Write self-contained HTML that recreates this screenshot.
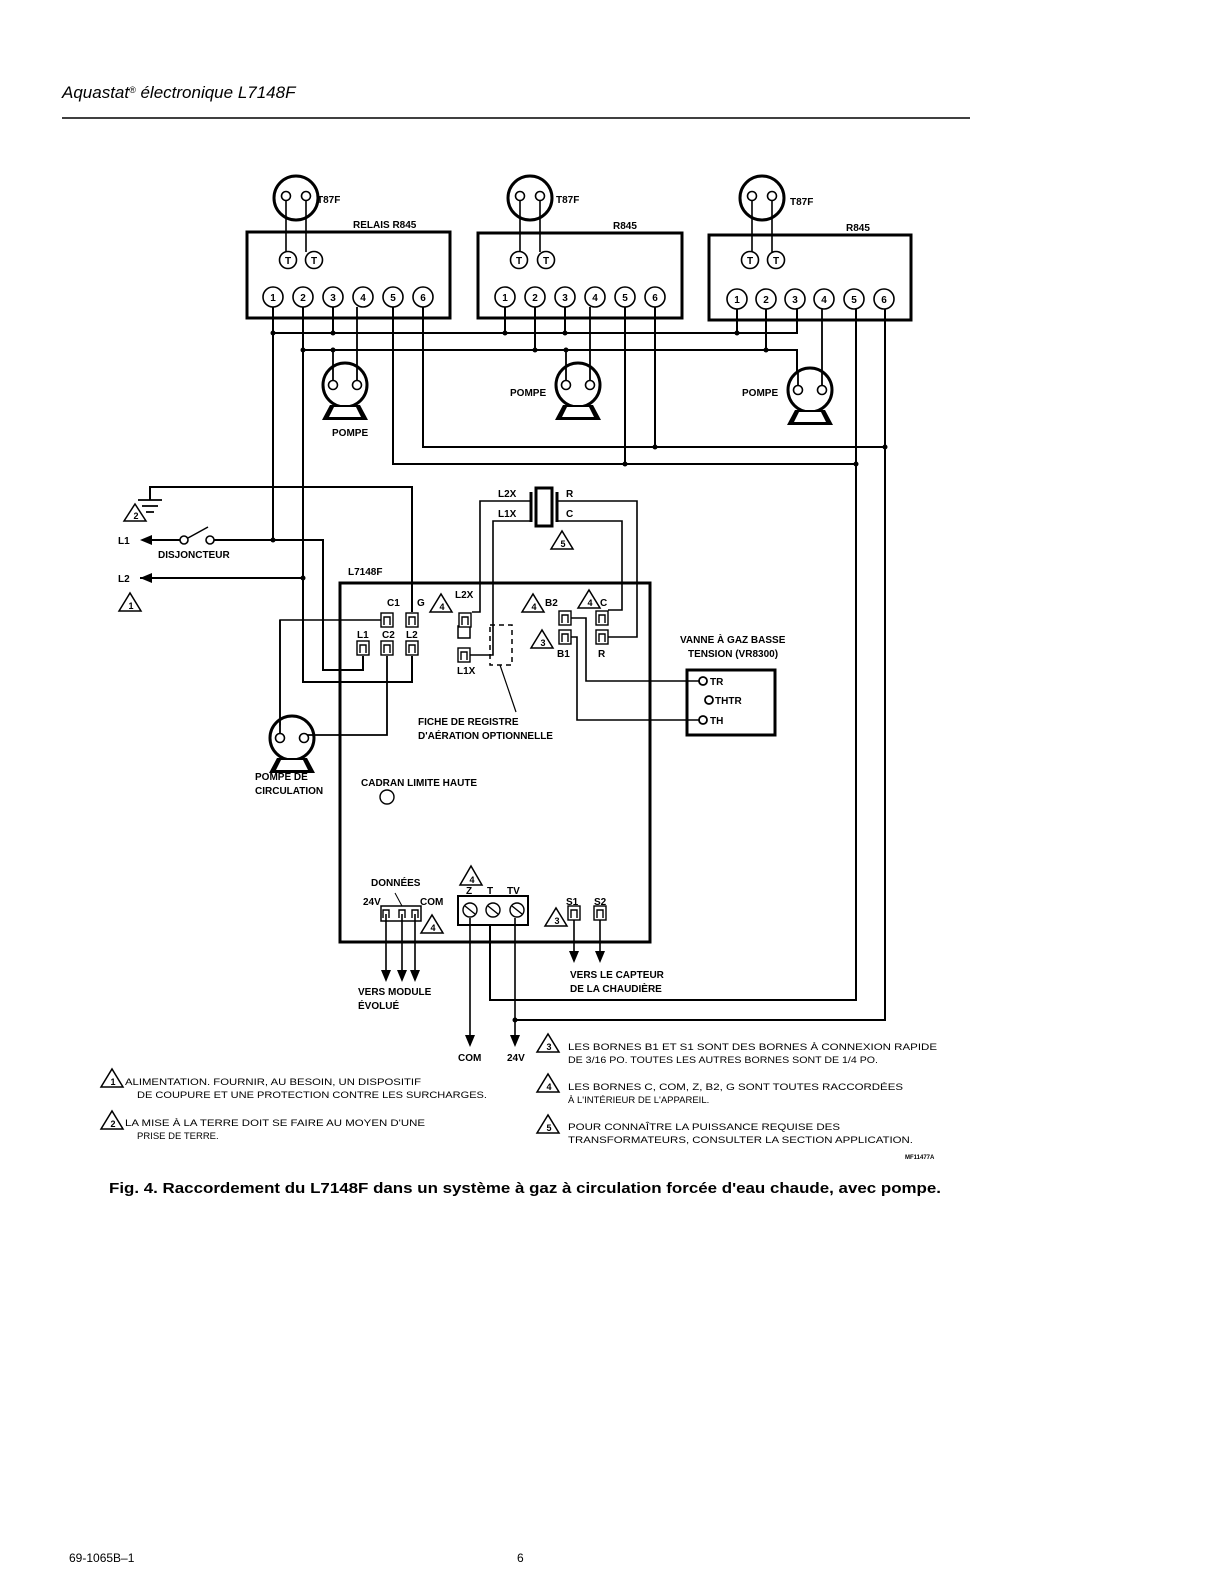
<!DOCTYPE html>
<html><head><meta charset="utf-8"><style>
html,body{margin:0;padding:0;background:#fff;}
svg{display:block;}
text{font-family:"Liberation Sans",Arial,sans-serif;fill:#000;}
.s{font-size:10px;}
.b{font-weight:bold;}
</style></head><body>
<svg width="1232" height="1590" viewBox="0 0 1232 1590" xmlns="http://www.w3.org/2000/svg">
<g fill="none" stroke="#000" stroke-width="1.6">
<line x1="62" y1="118" x2="970" y2="118" stroke-width="1.5"/>
<circle cx="296" cy="198" r="22" stroke-width="3"/>
<circle cx="530" cy="198" r="22" stroke-width="3"/>
<circle cx="762" cy="198" r="22" stroke-width="3"/>
<rect x="247" y="232" width="203" height="86" stroke-width="3"/>
<rect x="478" y="233" width="204" height="85" stroke-width="3"/>
<rect x="709" y="235" width="202" height="85" stroke-width="3"/>
<path d="M286 198V252M306 198V252M520 198V252M540 198V252M752 198V252M772 198V252"/>
<path d="M273 307V333H797V307M333 307V333M505 307V333M565 307V333M737 307V333" stroke-width="2"/>
<path d="M303 307V350H797V372M535 307V350M766 307V350" stroke-width="2"/>
<path d="M423 307V447H885M655 307V447M885 307V1020H515" stroke-width="2"/>
<path d="M393 307V464H856M625 307V464M856 307V1000H490V925" stroke-width="2"/>
<path d="M273 333V540M303 350V682H412V656" stroke-width="2"/>
<path d="M150 500V487H412V612" stroke-width="2"/>
<path d="M140 578H303" stroke-width="2"/>
<path d="M150 540H180M210 540H323V670H363V656" stroke-width="2"/>
<path d="M188 538L208 527" stroke-width="1.5"/>
<path d="M381 620H280V735" stroke-width="1.5"/>
<path d="M138 500H162M142 506H158M146 512H154" stroke-width="1.8"/>
<rect x="340" y="583" width="310" height="359" stroke-width="3"/>
<rect x="536" y="488" width="16" height="38" stroke-width="3"/>
<path d="M531 492V522M557 492V522" stroke-width="3"/>
<path d="M531 501H480V612H472M531 521H493V655H470M557 501H637V637H608M557 521H622V610H608" stroke-width="1.6"/>
<rect x="490" y="625" width="22" height="40" stroke-dasharray="5,4" stroke-width="1.5"/>
<path d="M500 665L516 712" stroke-width="1.2"/>
<rect x="458" y="626" width="12" height="12" stroke-width="1.5"/>
<path d="M571 618H586V681H700M571 637H577V720H700" stroke-width="1.6"/>
<rect x="687" y="670" width="88" height="65" stroke-width="3"/>
<circle cx="703" cy="681" r="4" stroke-width="1.8"/>
<circle cx="709" cy="700" r="4" stroke-width="1.8"/>
<circle cx="703" cy="720" r="4" stroke-width="1.8"/>
<circle cx="387" cy="797" r="7" stroke-width="1.4"/>
<rect x="458" y="896" width="70" height="29" stroke-width="2"/>
<rect x="381" y="906" width="40" height="15" stroke-width="1.5"/>
<path d="M386 914V972M402 914V972M415 914V972M574 918V953M600 918V953M470 918V1037M515 918V1037" stroke-width="1.6"/>
<path d="M395 893L402 906" stroke-width="1"/>
<circle cx="345" cy="385" r="22" stroke-width="3"/>
<circle cx="578" cy="385" r="22" stroke-width="3"/>
<circle cx="810" cy="390" r="22" stroke-width="3"/>
<circle cx="292" cy="738" r="22" stroke-width="3"/>
</g>
<g fill="#000">
<path d="M330 405L322 420H368L360 405Z"/><path d="M563 405L555 420H601L593 405Z"/><path d="M795 410L787 425H833L825 410Z"/><path d="M277 758L269 773H315L307 758Z"/>
</g>
<g fill="#fff"><path d="M334 407L329 417H361L356 407Z"/><path d="M567 407L562 417H594L589 407Z"/><path d="M799 412L794 422H826L821 412Z"/><path d="M281 760L276 770H308L303 760Z"/></g>
<g fill="#fff">
<circle cx="345" cy="385" r="17"/>
<circle cx="578" cy="385" r="17"/>
<circle cx="810" cy="390" r="17"/>
<circle cx="292" cy="738" r="17"/>
</g>
<g fill="none" stroke="#000" stroke-width="1.8">
<path d="M333 350V380M357 386V307M566 350V380M590 380V307M798 372V385M822 385V307M280 620V733M387 656V735H306"/>
</g>
<g fill="#fff" stroke="#000" stroke-width="1.6">
<circle cx="333" cy="385" r="4.5"/><circle cx="357" cy="385" r="4.5"/>
<circle cx="566" cy="385" r="4.5"/><circle cx="590" cy="385" r="4.5"/>
<circle cx="798" cy="390" r="4.5"/><circle cx="822" cy="390" r="4.5"/>
<circle cx="280" cy="738" r="4.5"/><circle cx="304" cy="738" r="4.5"/>
<circle cx="286" cy="196" r="4.5"/><circle cx="306" cy="196" r="4.5"/>
<circle cx="520" cy="196" r="4.5"/><circle cx="540" cy="196" r="4.5"/>
<circle cx="752" cy="196" r="4.5"/><circle cx="772" cy="196" r="4.5"/>
<circle cx="184" cy="540" r="4"/><circle cx="210" cy="540" r="4"/>
</g>
<g fill="#fff" stroke="#000" stroke-width="1.6">
<circle cx="288" cy="260" r="8.5"/><circle cx="314" cy="260" r="8.5"/>
<circle cx="519" cy="260" r="8.5"/><circle cx="546" cy="260" r="8.5"/>
<circle cx="750" cy="260" r="8.5"/><circle cx="776" cy="260" r="8.5"/>
<circle cx="273" cy="297" r="10"/><circle cx="303" cy="297" r="10"/><circle cx="333" cy="297" r="10"/><circle cx="363" cy="297" r="10"/><circle cx="393" cy="297" r="10"/><circle cx="423" cy="297" r="10"/>
<circle cx="505" cy="297" r="10"/><circle cx="535" cy="297" r="10"/><circle cx="565" cy="297" r="10"/><circle cx="595" cy="297" r="10"/><circle cx="625" cy="297" r="10"/><circle cx="655" cy="297" r="10"/>
<circle cx="737" cy="299" r="10"/><circle cx="766" cy="299" r="10"/><circle cx="795" cy="299" r="10"/><circle cx="824" cy="299" r="10"/><circle cx="854" cy="299" r="10"/><circle cx="884" cy="299" r="10"/>
</g>
<g class="s b" font-size="10" text-anchor="middle">
<text x="288" y="264">T</text><text x="314" y="264">T</text><text x="519" y="264">T</text><text x="546" y="264">T</text><text x="750" y="264">T</text><text x="776" y="264">T</text>
<text x="273" y="301">1</text><text x="303" y="301">2</text><text x="333" y="301">3</text><text x="363" y="301">4</text><text x="393" y="301">5</text><text x="423" y="301">6</text>
<text x="505" y="301">1</text><text x="535" y="301">2</text><text x="565" y="301">3</text><text x="595" y="301">4</text><text x="625" y="301">5</text><text x="655" y="301">6</text>
<text x="737" y="303">1</text><text x="766" y="303">2</text><text x="795" y="303">3</text><text x="824" y="303">4</text><text x="854" y="303">5</text><text x="884" y="303">6</text>
</g>
<g fill="#000">
<circle cx="273" cy="333" r="2.5"/><circle cx="333" cy="333" r="2.5"/><circle cx="505" cy="333" r="2.5"/><circle cx="565" cy="333" r="2.5"/><circle cx="737" cy="333" r="2.5"/>
<circle cx="303" cy="350" r="2.5"/><circle cx="333" cy="350" r="2.5"/><circle cx="535" cy="350" r="2.5"/><circle cx="566" cy="350" r="2.5"/><circle cx="766" cy="350" r="2.5"/>
<circle cx="655" cy="447" r="2.5"/><circle cx="885" cy="447" r="2.5"/><circle cx="625" cy="464" r="2.5"/><circle cx="856" cy="464" r="2.5"/>
<circle cx="273" cy="540" r="2.5"/><circle cx="303" cy="578" r="2.5"/><circle cx="515" cy="1020" r="2.5"/>
<path d="M140 540L152 535V545Z"/><path d="M140 578L152 573V583Z"/>
<path d="M381 970H391L386 982Z"/><path d="M397 970H407L402 982Z"/><path d="M410 970H420L415 982Z"/>
<path d="M569 951H579L574 963Z"/><path d="M595 951H605L600 963Z"/>
<path d="M465 1035H475L470 1047Z"/><path d="M510 1035H520L515 1047Z"/>
</g>
<g fill="#fff" stroke="#000" stroke-width="1.4">
<rect x="381" y="613" width="12" height="14"/><rect x="406" y="613" width="12" height="14"/>
<rect x="357" y="641" width="12" height="14"/><rect x="381" y="641" width="12" height="14"/><rect x="406" y="641" width="12" height="14"/>
<rect x="459" y="613" width="12" height="14"/><rect x="458" y="648" width="12" height="14"/>
<rect x="559" y="611" width="12" height="14"/><rect x="559" y="630" width="12" height="14"/>
<rect x="596" y="611" width="12" height="14"/><rect x="596" y="630" width="12" height="14"/>
<rect x="568" y="906" width="12" height="14"/><rect x="594" y="906" width="12" height="14"/>
<path d="M384 625V617H390V625M409 625V617H415V625M360 653V645H366V653M384 653V645H390V653M409 653V645H415V653M462 625V617H468V625M461 660V652H467V660M562 623V615H568V623M562 642V634H568V642M599 623V615H605V623M599 642V634H605V642M571 918V910H577V918M597 918V910H603V918M383 918V910H389V918M399 918V910H405V918M412 918V910H418V918" fill="none"/>
<circle cx="470" cy="910" r="7"/><circle cx="493" cy="910" r="7"/><circle cx="517" cy="910" r="7"/>
<path d="M465 906L475 914M488 906L498 914M512 906L522 914" fill="none"/>
</g>
<g fill="#fff" stroke="#000" stroke-width="1.5">
<path d="M124 521L135 504L146 521Z"/>
<path d="M119 611L130 593L141 611Z"/>
<path d="M430 612L441 594L452 612Z"/>
<path d="M522 612L533 594L544 612Z"/>
<path d="M578 608L589 590L600 608Z"/>
<path d="M531 648L542 630L553 648Z"/>
<path d="M551 549L562 531L573 549Z"/>
<path d="M460 885L471 866L482 885Z"/>
<path d="M421 933L432 915L443 933Z"/>
<path d="M545 926L556 908L567 926Z"/>
<path d="M101 1087L112 1069L123 1087Z"/>
<path d="M101 1129L112 1111L123 1129Z"/>
<path d="M537 1052L548 1034L559 1052Z"/>
<path d="M537 1092L548 1074L559 1092Z"/>
<path d="M537 1133L548 1115L559 1133Z"/>
</g>
<g font-size="9" font-weight="bold" text-anchor="middle">
<text x="136" y="519">2</text><text x="131" y="609">1</text><text x="442" y="610">4</text><text x="534" y="610">4</text><text x="590" y="606">4</text><text x="543" y="646">3</text><text x="563" y="547">5</text><text x="472" y="883">4</text><text x="433" y="931">4</text><text x="557" y="924">3</text>
<text x="113" y="1085">1</text><text x="113" y="1127">2</text><text x="549" y="1050">3</text><text x="549" y="1090">4</text><text x="549" y="1131">5</text>
</g>
<text x="62" y="98" font-size="17" font-style="italic">Aquastat<tspan font-size="9" dy="-5">®</tspan><tspan dy="5"> électronique L7148F</tspan></text>
<g class="s" font-size="9.5" font-weight="bold">
<text x="317" y="203">T87F</text><text x="556" y="203">T87F</text><text x="790" y="205">T87F</text>
<text x="353" y="228">RELAIS R845</text><text x="613" y="229">R845</text><text x="846" y="231">R845</text>
<text x="332" y="436">POMPE</text><text x="510" y="396">POMPE</text><text x="742" y="396">POMPE</text>
<text x="118" y="544">L1</text><text x="118" y="582">L2</text>
<text x="158" y="558">DISJONCTEUR</text>
<text x="348" y="575">L7148F</text>
<text x="498" y="497">L2X</text><text x="498" y="517">L1X</text><text x="566" y="497">R</text><text x="566" y="517">C</text>
<text x="387" y="606">C1</text><text x="417" y="606">G</text><text x="357" y="638">L1</text><text x="382" y="638">C2</text><text x="406" y="638">L2</text>
<text x="455" y="598">L2X</text><text x="457" y="674">L1X</text>
<text x="545" y="606">B2</text><text x="557" y="657">B1</text><text x="600" y="606">C</text><text x="598" y="657">R</text>
<text x="680" y="643">VANNE À GAZ BASSE</text><text x="688" y="657">TENSION (VR8300)</text>
<text x="710" y="685">TR</text><text x="715" y="704">THTR</text><text x="710" y="724">TH</text>
<text x="418" y="725">FICHE DE REGISTRE</text><text x="418" y="739">D'AÉRATION OPTIONNELLE</text>
<text x="255" y="780">POMPE DE</text><text x="255" y="794">CIRCULATION</text>
<text x="361" y="786">CADRAN LIMITE HAUTE</text>
<text x="371" y="886">DONNÉES</text><text x="363" y="905">24V</text><text x="420" y="905">COM</text>
<text x="466" y="894">Z</text><text x="487" y="894">T</text><text x="507" y="894">TV</text>
<text x="566" y="905">S1</text><text x="594" y="905">S2</text>
<text x="358" y="995">VERS MODULE</text><text x="358" y="1009">ÉVOLUÉ</text>
<text x="570" y="978">VERS LE CAPTEUR</text><text x="570" y="992">DE LA CHAUDIÈRE</text>
<text x="458" y="1061">COM</text><text x="507" y="1061">24V</text>
</g>
<g font-size="9.5">
<text x="125" y="1085" textLength="296" lengthAdjust="spacingAndGlyphs">ALIMENTATION. FOURNIR, AU BESOIN, UN DISPOSITIF</text>
<text x="137" y="1098" textLength="350" lengthAdjust="spacingAndGlyphs">DE COUPURE ET UNE PROTECTION CONTRE LES SURCHARGES.</text>
<text x="125" y="1126" textLength="300" lengthAdjust="spacingAndGlyphs">LA MISE À LA TERRE DOIT SE FAIRE AU MOYEN D'UNE</text>
<text x="137" y="1139">PRISE DE TERRE.</text>
<text x="568" y="1050" textLength="369" lengthAdjust="spacingAndGlyphs">LES BORNES B1 ET S1 SONT DES BORNES À CONNEXION RAPIDE</text>
<text x="568" y="1063" textLength="310" lengthAdjust="spacingAndGlyphs">DE 3/16 PO. TOUTES LES AUTRES BORNES SONT DE 1/4 PO.</text>
<text x="568" y="1090" textLength="335" lengthAdjust="spacingAndGlyphs">LES BORNES C, COM, Z, B2, G SONT TOUTES RACCORDÉES</text>
<text x="568" y="1103">À L'INTÉRIEUR DE L'APPAREIL.</text>
<text x="568" y="1130" textLength="272" lengthAdjust="spacingAndGlyphs">POUR CONNAÎTRE LA PUISSANCE REQUISE DES</text>
<text x="568" y="1143" textLength="345" lengthAdjust="spacingAndGlyphs">TRANSFORMATEURS, CONSULTER LA SECTION APPLICATION.</text>
<text x="905" y="1159" font-size="6" font-weight="bold">MF11477A</text>
</g>
<text x="109" y="1193" font-size="15" font-weight="bold" textLength="832" lengthAdjust="spacingAndGlyphs">Fig. 4. Raccordement du L7148F dans un système à gaz à circulation forcée d'eau chaude, avec pompe.</text>
<text x="69" y="1562" font-size="12">69-1065B–1</text>
<text x="517" y="1562" font-size="12">6</text>
</svg>
</body></html>
